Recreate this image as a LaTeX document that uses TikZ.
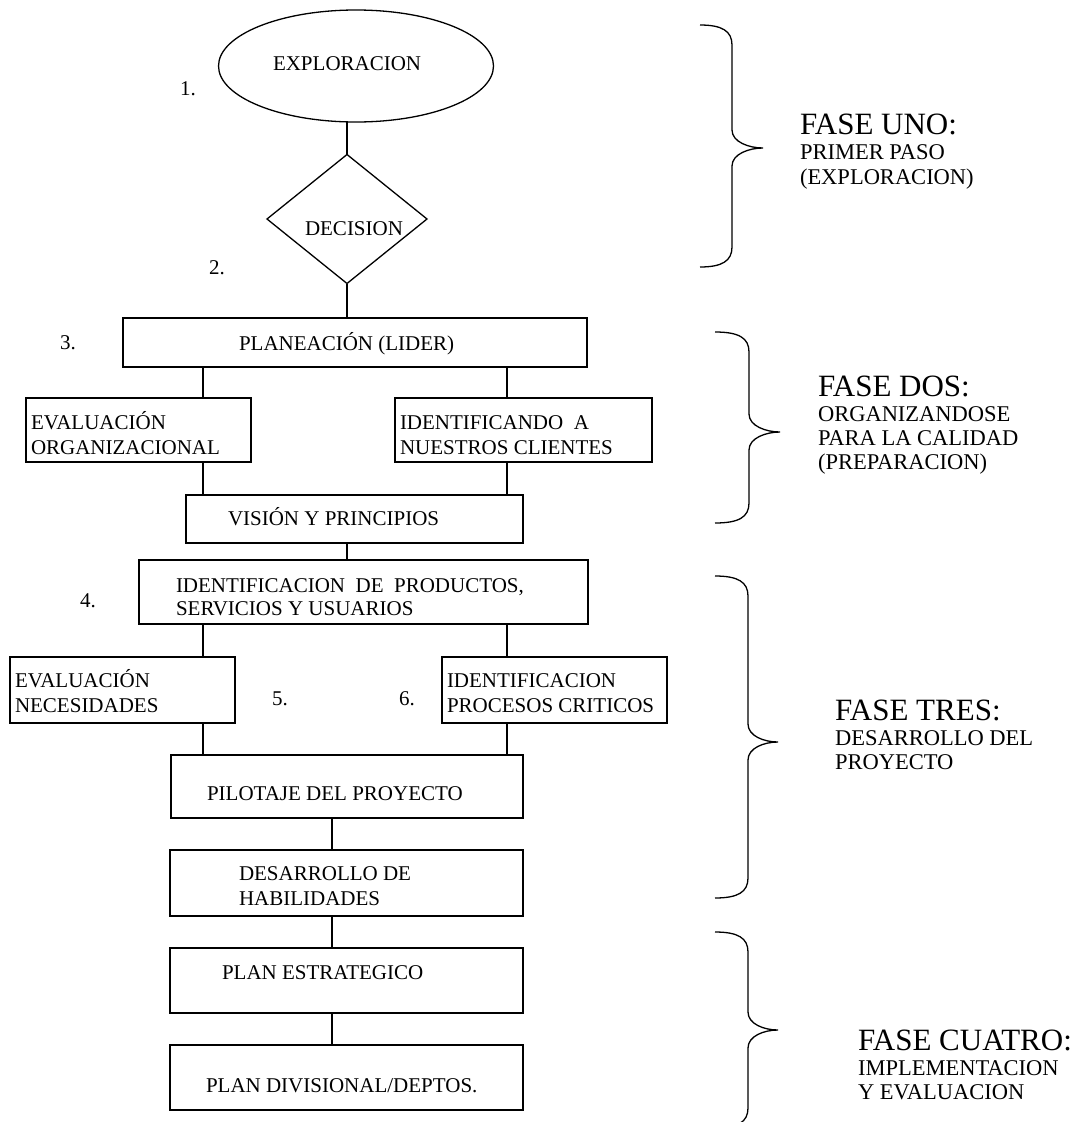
\documentclass[tikz,border=0pt]{standalone}
\usepackage{fontspec}
\setmainfont{Liberation Serif}
\usetikzlibrary{shapes.geometric,fit}

\newcommand\mainf{\fontsize{21}{25}\selectfont}
\newcommand\subf{\fontsize{22.5}{26}\selectfont}
\newcommand\titf{\fontsize{31}{34}\selectfont}

% curly brace: tip x, spine x, point x, top y, point y, bottom y
\newcommand\phasebrace[6]{%
  \draw[braceline] (#1,#4) .. controls ({#2-10},#4) and (#2,{#4+6}) .. (#2,{#4+20})
    -- (#2,{#5-18}) .. controls (#2,{#5-6}) and ({#3-14},#5) .. (#3,#5)
    .. controls ({#3-14},#5) and (#2,{#5+6}) .. (#2,{#5+18})
    -- (#2,{#6-20}) .. controls (#2,{#6-6}) and ({#2-10},#6) .. (#1,#6);}

\tikzset{
  box/.style={draw, rectangle, line width=1.3pt, inner sep=0pt, outer sep=0pt},
  link/.style={line width=1.2pt},
  braceline/.style={line width=1.3pt},
  lbl/.style={anchor=base west, inner sep=0pt, outer sep=0pt, font=\mainf},
  sublbl/.style={anchor=base west, inner sep=0pt, outer sep=0pt, font=\subf},
  titlbl/.style={anchor=base west, inner sep=0pt, outer sep=0pt, font=\titf},
}

\begin{document}
\begin{tikzpicture}[x=1pt,y=-1pt]
\fill[white] (0,0) rectangle (1086,1122);
\useasboundingbox (0,0) rectangle (1086,1122);

% ---------- phase one ----------
\node[draw, ellipse, line width=1.3pt, inner sep=0pt, outer sep=0pt,
      minimum width=275pt, minimum height=112pt] (ell) at (356,66) {};
\node[lbl] (tExp) at (273,70) {EXPLORACION};
\node[lbl] (n1) at (180,95) {1.};

\node[draw, diamond, line width=1.3pt, inner sep=0pt, outer sep=0pt,
      aspect=1.24, minimum width=160pt, minimum height=129pt] (dia) at (347,219) {};
\node[lbl] (tDec) at (305,235) {DECISION};
\node[lbl] (n2) at (209,274) {2.};

% ---------- phase two ----------
\node[box, fit={(123,318) (587,367)}] (plan) {};
\node[lbl] (tPlan) at (239,350) {PLANEACIÓN (LIDER)};
\node[lbl] (n3) at (60,349) {3.};

\node[box, fit={(26,398) (251,462)}] (evorg) {};
\node[lbl] (tEvo1) at (31,429) {EVALUACIÓN};
\node[lbl] (tEvo2) at (31,454) {ORGANIZACIONAL};

\node[box, fit={(395,398) (652,462)}] (ident) {};
\node[lbl] (tIde1) at (400,429) {IDENTIFICANDO\ \ A};
\node[lbl] (tIde2) at (400,454) {NUESTROS CLIENTES};

\node[box, fit={(186,495) (523,543)}] (vision) {};
\node[lbl] (tVis) at (228,525) {VISIÓN Y PRINCIPIOS};

% ---------- phase three ----------
\node[box, fit={(139,560) (588,624)}] (prod) {};
\node[lbl] (tPro1) at (176,592) {IDENTIFICACION\ \ DE\ \ PRODUCTOS,};
\node[lbl] (tPro2) at (176,615) {SERVICIOS Y USUARIOS};
\node[lbl] (n4) at (80,607) {4.};

\node[box, fit={(10,657) (235,723)}] (evnec) {};
\node[lbl] (tNec1) at (15,687) {EVALUACIÓN};
\node[lbl] (tNec2) at (15,712) {NECESIDADES};
\node[lbl] (n5) at (272,705) {5.};

\node[box, fit={(442,657) (667,723)}] (proc) {};
\node[lbl] (tPrc1) at (447,687) {IDENTIFICACION};
\node[lbl] (tPrc2) at (447,712) {PROCESOS CRITICOS};
\node[lbl] (n6) at (399,705) {6.};

\node[box, fit={(171,755) (523,818)}] (pilot) {};
\node[lbl] (tPil) at (207,800) {PILOTAJE DEL PROYECTO};

\node[box, fit={(170,850) (523,916)}] (hab) {};
\node[lbl] (tHab1) at (239,880) {DESARROLLO DE};
\node[lbl] (tHab2) at (239,905) {HABILIDADES};

% ---------- phase four ----------
\node[box, fit={(170,948) (523,1013)}] (estr) {};
\node[lbl] (tEst) at (222,979) {PLAN ESTRATEGICO};

\node[box, fit={(170,1045) (523,1110)}] (div) {};
\node[lbl] (tDiv) at (206,1092) {PLAN DIVISIONAL/DEPTOS.};

% ---------- connectors ----------
\coordinate (xL) at (203,0);
\coordinate (xM) at (347,0);
\coordinate (xR) at (507,0);
\coordinate (xC) at (332,0);

\draw[link] (ell.south -| xM) -- (dia.north);
\draw[link] (dia.south) -- (plan.north -| xM);
\draw[link] (plan.south -| xL) -- (evorg.north -| xL);
\draw[link] (plan.south -| xR) -- (ident.north -| xR);
\draw[link] (evorg.south -| xL) -- (vision.north -| xL);
\draw[link] (ident.south -| xR) -- (vision.north -| xR);
\draw[link] (vision.south -| xM) -- (prod.north -| xM);
\draw[link] (prod.south -| xL) -- (evnec.north -| xL);
\draw[link] (prod.south -| xR) -- (proc.north -| xR);
\draw[link] (evnec.south -| xL) -- (pilot.north -| xL);
\draw[link] (proc.south -| xR) -- (pilot.north -| xR);
\draw[link] (pilot.south -| xC) -- (hab.north -| xC);
\draw[link] (hab.south -| xC) -- (estr.north -| xC);
\draw[link] (estr.south -| xC) -- (div.north -| xC);

% ---------- phase braces and captions ----------
\phasebrace{700}{732}{763}{25}{148}{267}
\node[titlbl] (f1) at (800,134) {FASE UNO:};
\node[sublbl] (f1a) at (800,159) {PRIMER PASO};
\node[sublbl] (f1b) at (800,184) {(EXPLORACION)};

\phasebrace{715}{749}{780}{332}{432}{523}
\node[titlbl] (f2) at (818,396) {FASE DOS:};
\node[sublbl] (f2a) at (818,421) {ORGANIZANDOSE};
\node[sublbl] (f2b) at (818,445) {PARA LA CALIDAD};
\node[sublbl] (f2c) at (818,469) {(PREPARACION)};

\phasebrace{715}{748}{778}{576}{742}{898}
\node[titlbl] (f3) at (835,720) {FASE TRES:};
\node[sublbl] (f3a) at (835,745) {DESARROLLO DEL};
\node[sublbl] (f3b) at (835,769) {PROYECTO};

\phasebrace{715}{748}{778}{932}{1030}{1128}
\node[titlbl] (f4) at (858,1050) {FASE CUATRO:};
\node[sublbl] (f4a) at (858,1075) {IMPLEMENTACION};
\node[sublbl] (f4b) at (858,1099) {Y EVALUACION};
\end{tikzpicture}
\end{document}
